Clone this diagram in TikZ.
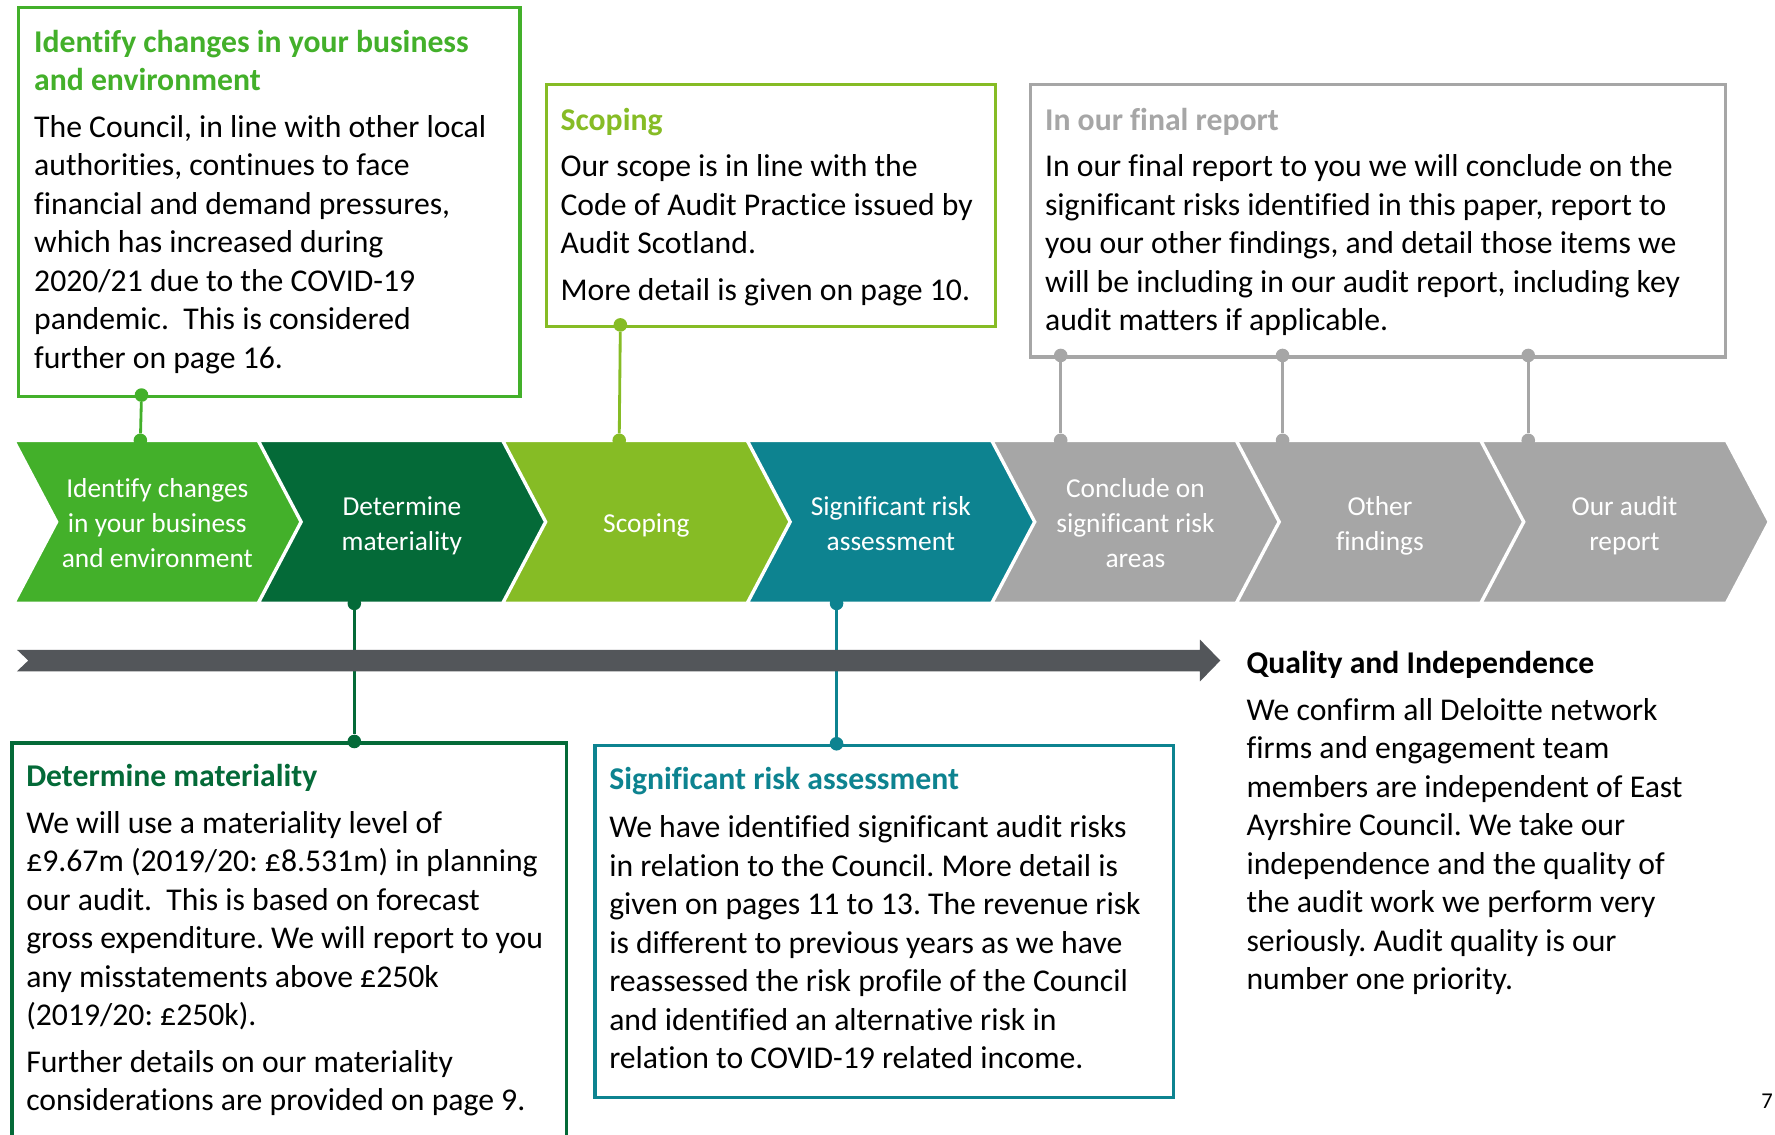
\documentclass[tikz,border=0pt]{standalone}
\usepackage{fontspec}
\setmainfont{Carlito}[Ligatures={NoCommon}]
\frenchspacing
\definecolor{cgreen}{RGB}{67,176,42}
\definecolor{cdark}{RGB}{4,106,56}
\definecolor{clime}{RGB}{134,188,37}
\definecolor{cteal}{RGB}{13,131,144}
\definecolor{cgrey}{RGB}{166,166,166}
\definecolor{carrow}{RGB}{83,86,90}
\tikzset{
  infobox/.style={draw=#1, line width=3pt, fill=white, anchor=north west, inner sep=0pt},
  infotext/.style={anchor=north west, inner sep=0pt, align=left, font=\fontsize{28}{34}\selectfont},
  chevtext/.style={text=white, align=center, font=\fontsize{24.2}{31}\selectfont, inner sep=0pt},
  conn/.style={line width=2.5pt, draw=#1},
  dot/.style={circle, fill=#1, inner sep=0pt, minimum size=12pt},
  chevshape/.style={fill=#1, draw=white, line width=3pt, line join=miter},
}
\newcommand\mychev[4]{%
  \pgfmathsetmacro\chevL{12+216*#1}
  \fill[chevshape=#2] (\chevL,389) -- ++(217,0) -- ++(38,72) -- ++(-38,72) -- ++(-217,0) -- ++(38,-72) -- cycle;
  \node[chevtext] (#3) at (\chevL+127,464.5) {#4};
}
\begin{document}
\begin{tikzpicture}[x=1pt,y=-1pt]
\clip (0,0) rectangle (1568,1002);
\fill[white] (0,0) rectangle (1568,1002);

% boxes
\node[infobox=cgreen, minimum width=443pt, minimum height=344pt] (b1) at (15,5) {};
\node[infobox=clime, minimum width=397pt, minimum height=214pt] (b2) at (481,73) {};
\node[infobox=cgrey, minimum width=614pt, minimum height=241pt] (b3) at (909,73) {};
\node[infobox=cdark, minimum width=490pt, minimum height=360pt] (b4) at (9,655) {};
\node[infobox=cteal, minimum width=511pt, minimum height=311pt] (b5) at (524,657) {};

% chevrons
\mychev{0}{cgreen}{c1}{\strut Identify changes\\\strut in your business\\\strut and environment}
\mychev{1}{cdark}{c2}{\strut Determine\\\strut materiality}
\mychev{2}{clime}{c3}{\strut Scoping}
\mychev{3}{cteal}{c4}{\strut Significant risk\\\strut assessment}
\mychev{4}{cgrey}{c5}{\strut Conclude on\\\strut significant risk\\\strut areas}
\mychev{5}{cgrey}{c6}{\strut Other\\\strut findings}
\mychev{6}{cgrey}{c7}{\strut Our audit\\\strut report}

% connectors
\node[dot=cgreen] (d1a) at (125,349) {};
\node[dot=cgreen] (d1b) at (124,389) {};
\draw[conn=cgreen] (d1a) -- (d1b);
\node[dot=clime] (d2a) at (548,287) {};
\node[dot=clime] (d2b) at (547,389) {};
\draw[conn=clime] (d2a) -- (d2b);
\node[dot=cgrey] (d3a) at (937,314) {};
\node[dot=cgrey] (d3b) at (937,389) {};
\draw[conn=cgrey] (d3a) -- (d3b);
\node[dot=cgrey] (d4a) at (1133,314) {};
\node[dot=cgrey] (d4b) at (1133,389) {};
\draw[conn=cgrey] (d4a) -- (d4b);
\node[dot=cgrey] (d5a) at (1350,314) {};
\node[dot=cgrey] (d5b) at (1350,389) {};
\draw[conn=cgrey] (d5a) -- (d5b);
\node[dot=cdark] (d6a) at (313,533) {};
\node[dot=cdark] (d6b) at (313,655) {};
\draw[conn=cdark] (d6a) -- (d6b);
\node[dot=cteal] (d7a) at (739,533) {};
\node[dot=cteal] (d7b) at (739,657) {};
\draw[conn=cteal] (d7a) -- (d7b);

% timeline arrow
\fill[carrow] (15,574) -- (1060,574) -- (1060,565) -- (1078,583.5) -- (1060,602) -- (1060,593) -- (15,593) -- (25,583.5) -- cycle;

% texts
\node[infotext] (t1) at (30,22.2) {\strut\textbf{\color{cgreen}Identify changes in your business}\\
\textbf{\color{cgreen}and environment}\\[7pt]
The Council, in line with other local\\
authorities, continues to face\\
financial and demand pressures,\\
which has increased during\\
2020/21 due to the COVID-19\\
pandemic.\ \ This is considered\\
further on page 16.};

\node[infotext] (t2) at (495,91.2) {\strut\textbf{\color{clime}Scoping}\\[7pt]
Our scope is in line with the\\
Code of Audit Practice issued by\\
Audit Scotland.\\[7pt]
More detail is given on page 10.};

\node[infotext] (t3) at (923,91.2) {\strut\textbf{\color{cgrey}In our final report}\\[7pt]
In our final report to you we will conclude on the\\
significant risks identified in this paper, report to\\
you our other findings, and detail those items we\\
will be including in our audit report, including key\\
audit matters if applicable.};

\node[infotext] (t4) at (23,671.2) {\strut\textbf{\color{cdark}Determine materiality}\\[7pt]
We will use a materiality level of\\
£9.67m (2019/20: £8.531m) in planning\\
our audit.\ \ This is based on forecast\\
gross expenditure. We will report to you\\
any misstatements above £250k\\
(2019/20: £250k).\\[7pt]
Further details on our materiality\\
considerations are provided on page 9.};

\node[infotext] (t5) at (538,673.2) {\strut\textbf{\color{cteal}Significant risk assessment}\\[9pt]
We have identified significant audit risks\\
in relation to the Council. More detail is\\
given on pages 11 to 13. The revenue risk\\
is different to previous years as we have\\
reassessed the risk profile of the Council\\
and identified an alternative risk in\\
relation to COVID-19 related income.};

\node[infotext] (t6) at (1101,571.2) {\strut\textbf{Quality and Independence}\\[7pt]
We confirm all Deloitte network\\
firms and engagement team\\
members are independent of East\\
Ayrshire Council. We take our\\
independence and the quality of\\
the audit work we perform very\\
seriously. Audit quality is our\\
number one priority.};

\node[font=\fontsize{20}{24}\selectfont, inner sep=0pt, anchor=base] (pg) at (1561,979) {7};
\end{tikzpicture}
\end{document}
